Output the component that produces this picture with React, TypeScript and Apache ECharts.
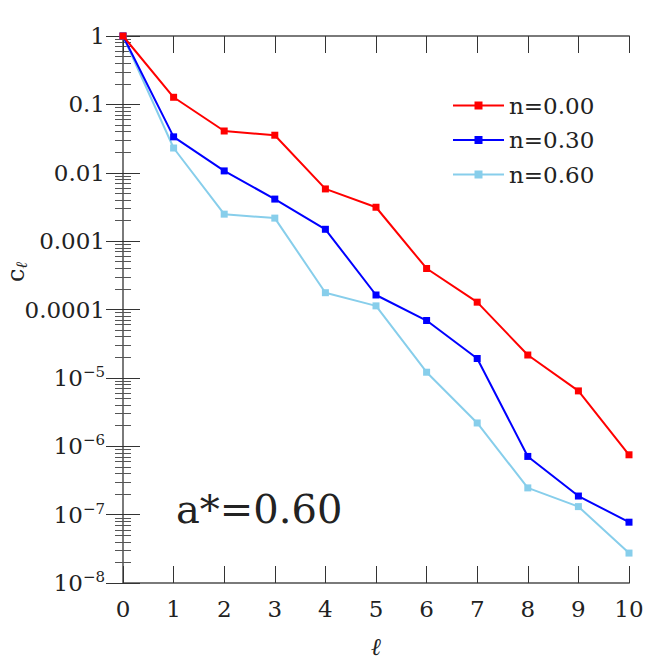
import React, { useEffect, useRef } from "react";
import * as echarts from "echarts";

const ells = ["0", "1", "2", "3", "4", "5", "6", "7", "8", "9", "10"];
const seriesNames = ["n=0.00", "n=0.30", "n=0.60"];
const colors = ["#ff0000", "#0000ff", "#87ceeb"];
const cN000 = [1, 0.127, 0.0408, 0.0354, 0.0058, 0.00313, 0.000398, 0.000128, 2.16e-5, 6.45e-6, 7.5e-7];
const cN030 = [1, 0.0335, 0.01064, 0.00412, 0.00149, 0.000163, 6.9e-5, 1.92e-5, 7.1e-7, 1.87e-7, 7.75e-8];
const cN060 = [1, 0.023, 0.00248, 0.00217, 0.000176, 0.000113, 1.21e-5, 2.19e-6, 2.46e-7, 1.31e-7, 2.74e-8];
const seriesValues = [cN000, cN030, cN060];
const yMin = 1e-8;
const yMax = 1;
const annotation = "a*=0.60";

const FONT = "DejaVu Serif";

function yLabel(v: number): string {
  const e = Math.round(Math.log10(v));
  if (e >= -4) {
    if (e === 0) return "1";
    return "0." + "0".repeat(-e - 1) + "1";
  }
  return "10{sup|−" + -e + "}";
}

export default function App() {
  const ref = useRef<HTMLDivElement>(null);
  useEffect(() => {
    if (!ref.current) return;
    const chart = echarts.init(ref.current, null, { renderer: "svg" });
    const axisLine = { show: true, lineStyle: { color: "#7a7a7a", width: 2 } };
    const tickStyle = { color: "#333", width: 1 };
    chart.setOption({
      animation: false,
      title: {
        text: annotation,
        left: 176,
        top: 489,
        padding: 0,
        textStyle: { fontFamily: FONT, fontSize: 40, fontWeight: "normal", color: "#222" },
      },
      grid: { left: 123, right: 35, top: 36, bottom: 71 },
      legend: {
        orient: "vertical",
        left: 452,
        top: 94,
        padding: 0,
        itemWidth: 51,
        itemHeight: 10,
        itemGap: 11.5,
        textStyle: { fontFamily: FONT, fontSize: 23, color: "#222" },
        data: seriesNames,
      },
      xAxis: [
        {
          type: "value",
          min: 0,
          max: 10,
          interval: 1,
          position: "bottom",
          axisLine,
          axisTick: { show: true, inside: true, length: 17, lineStyle: tickStyle },
          splitLine: { show: false },
          axisLabel: { fontFamily: FONT, fontSize: 23, color: "#222", margin: 14 },
          name: "ℓ",
          nameLocation: "middle",
          nameGap: 52,
          nameTextStyle: { fontFamily: FONT, fontSize: 24, fontStyle: "italic", color: "#222" },
        },
        {
          type: "value",
          min: 0,
          max: 10,
          interval: 1,
          position: "top",
          axisLine,
          axisTick: { show: true, inside: true, length: 17, lineStyle: tickStyle },
          splitLine: { show: false },
          axisLabel: { show: false },
        },
      ],
      yAxis: [
        {
          type: "log",
          logBase: 10,
          min: yMin,
          max: yMax,
          interval: 1,
          position: "left",
          axisLine,
          axisTick: { show: true, inside: true, length: 17, lineStyle: tickStyle },
          minorTick: { show: true, splitNumber: 9, length: 8, lineStyle: { color: "#555", width: 1 } },
          splitLine: { show: false },
          minorSplitLine: { show: false },
          axisLabel: {
            fontFamily: FONT,
            fontSize: 23,
            color: "#222",
            margin: 18,
            formatter: (v: number) => yLabel(v),
            rich: {
              sup: { fontFamily: FONT, fontSize: 15, color: "#222", padding: [0, 0, 12, 0] },
            },
          },
        },
        {
          type: "log",
          logBase: 10,
          min: yMin,
          max: yMax,
          interval: 1,
          position: "right",
          axisLine,
          axisTick: { show: true, inside: true, length: 17, lineStyle: tickStyle },
          minorTick: { show: true, splitNumber: 9, length: 8, lineStyle: { color: "#555", width: 1 } },
          splitLine: { show: false },
          minorSplitLine: { show: false },
          axisLabel: { show: false },
        },
      ],
      series: seriesNames.map((name, i) => ({
        name,
        type: "line",
        xAxisIndex: 0,
        yAxisIndex: 0,
        data: seriesValues[i].map((v, k) => [Number(ells[k]), v]),
        symbol: "rect",
        symbolSize: 7,
        lineStyle: { color: colors[i], width: 2 },
        itemStyle: { color: colors[i] },
        z: 10 - i,
      })),
      graphic: [
        {
          type: "text",
          x: 16,
          y: 272,
          rotation: Math.PI / 2,
          style: {
            text: "{c|c}{s|ℓ}",
            textAlign: "center",
            textVerticalAlign: "middle",
            rich: {
              c: { fontFamily: FONT, fontSize: 24, fill: "#222", color: "#222" },
              s: { fontFamily: FONT, fontSize: 16, fontStyle: "italic", fill: "#222", color: "#222", padding: [10, 0, 0, 0] },
            },
          },
        },
      ],
    });
    return () => chart.dispose();
  }, []);
  return <div ref={ref} style={{ width: 664, height: 664, position: "absolute", left: 0, top: 0 }} />;
}
